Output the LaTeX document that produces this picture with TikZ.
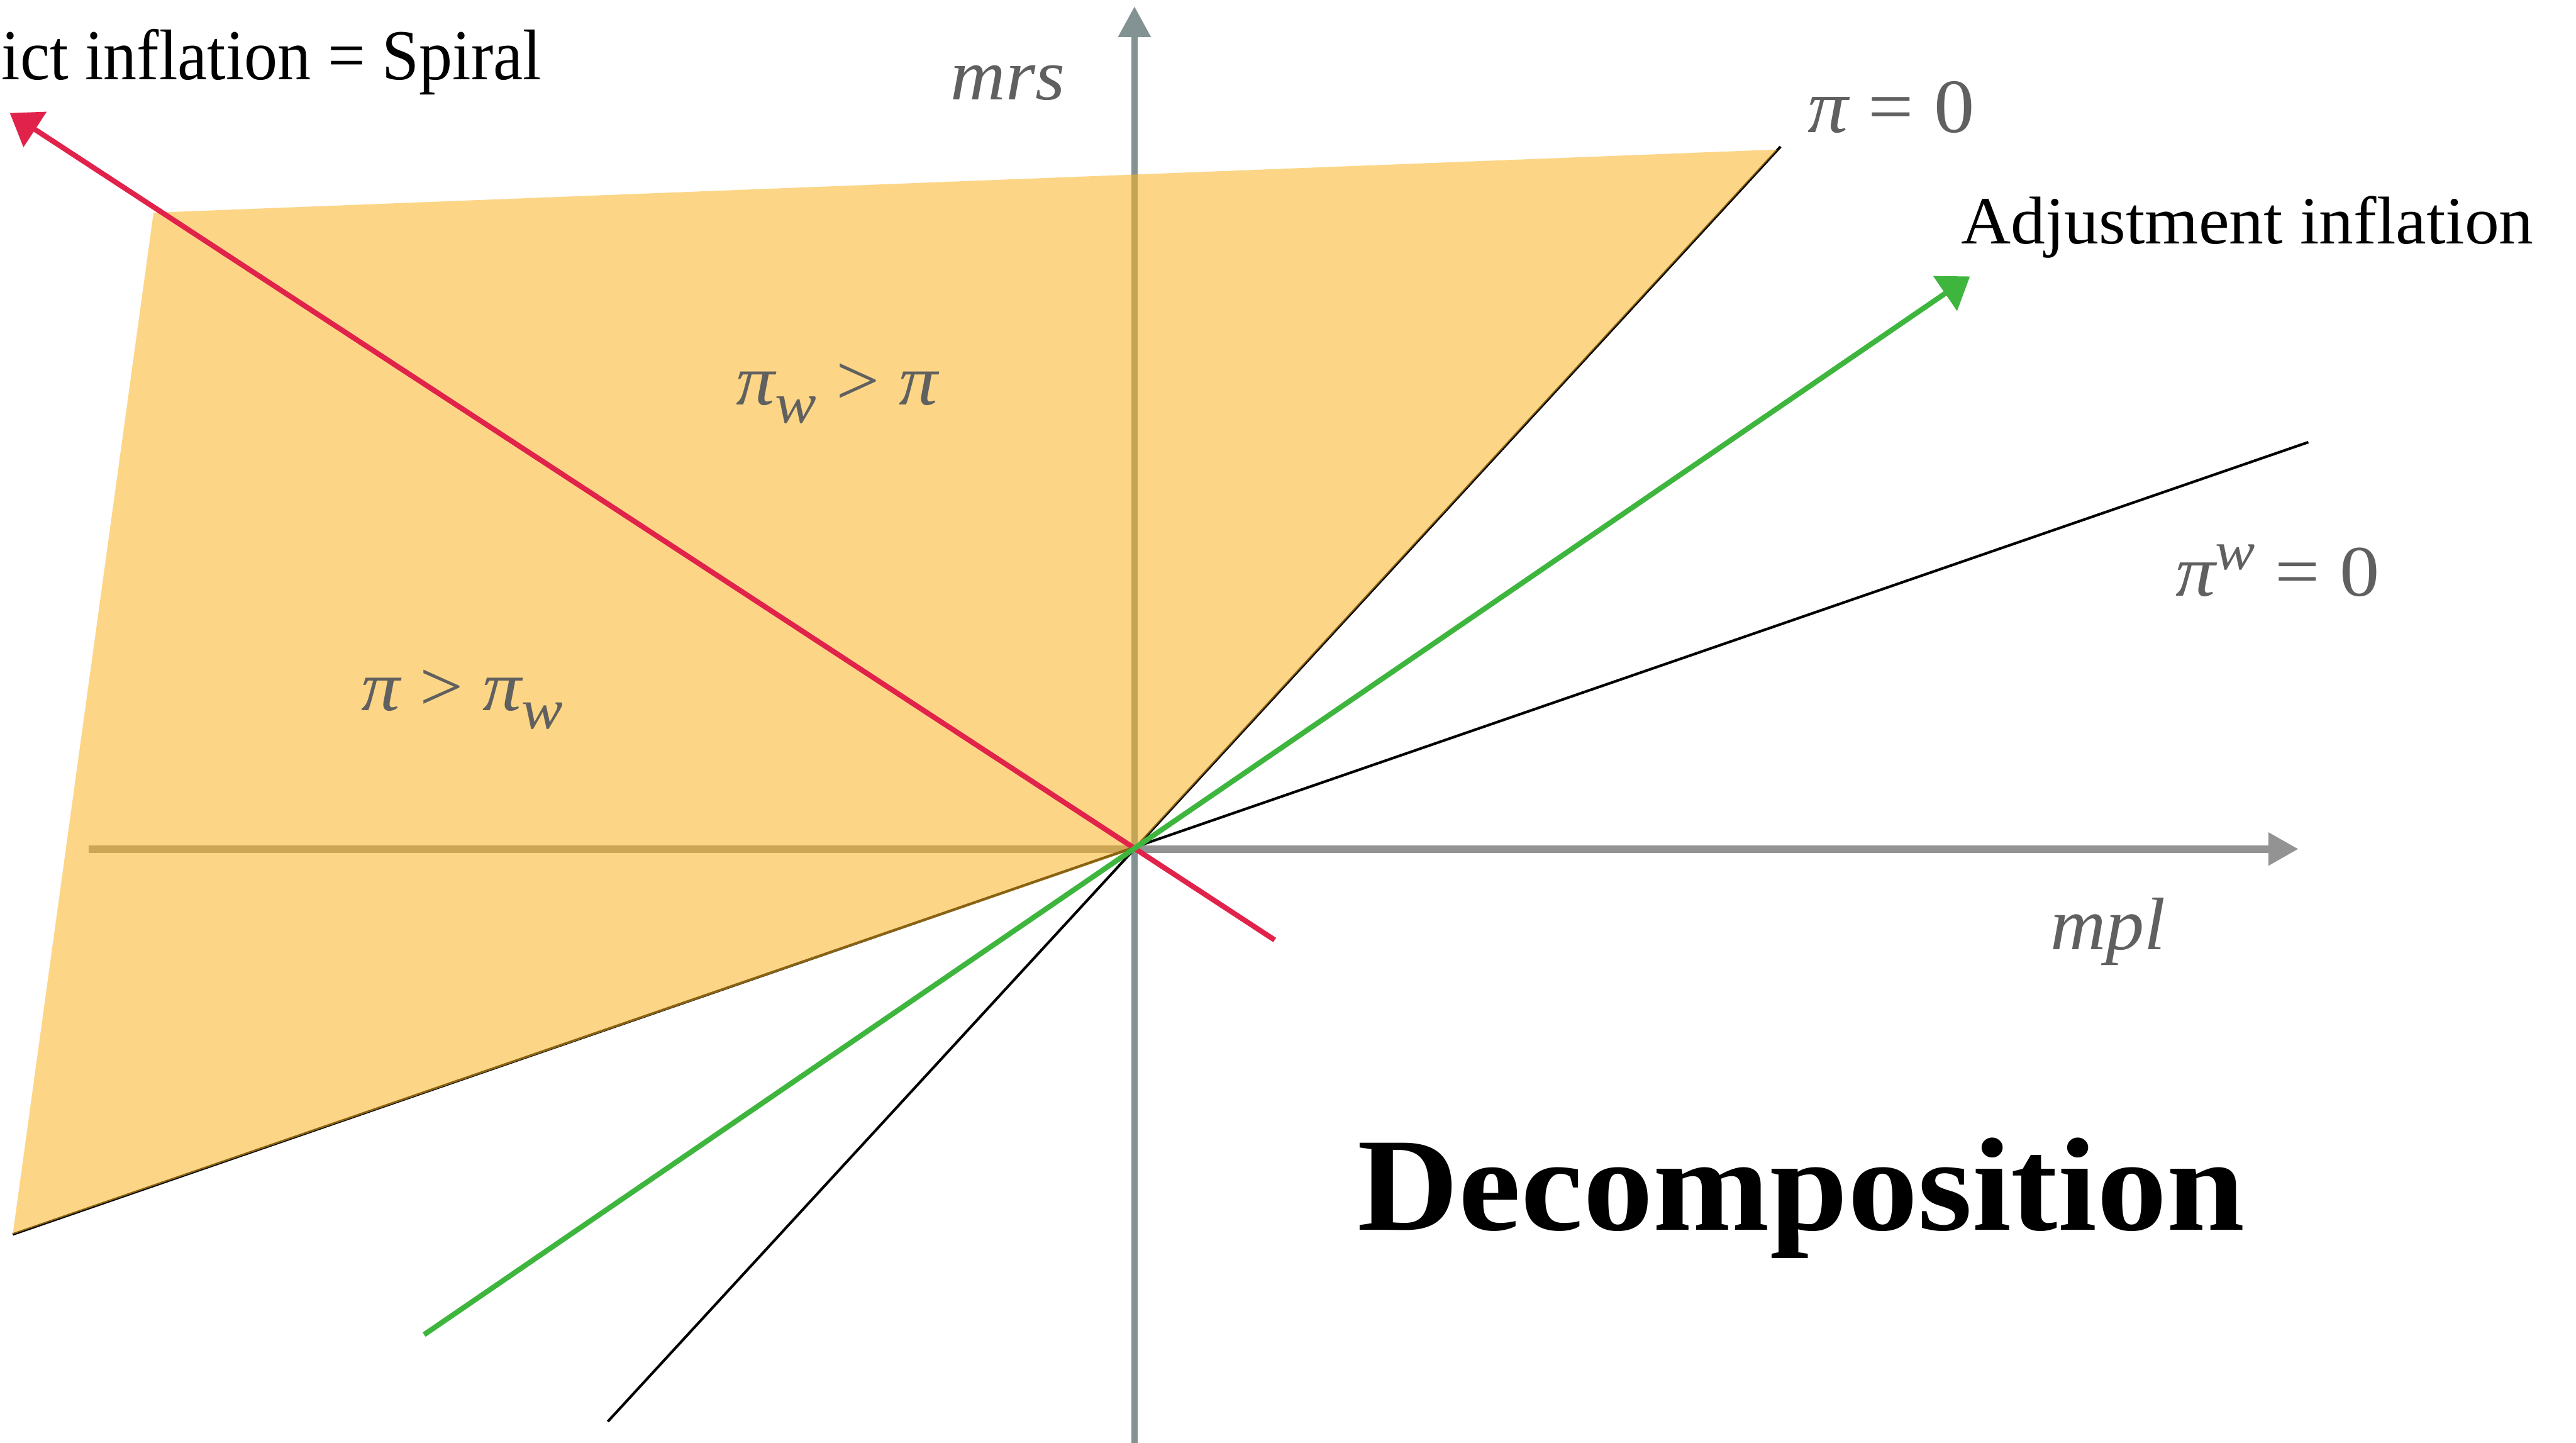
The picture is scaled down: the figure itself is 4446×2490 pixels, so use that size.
\documentclass[tikz,border=0pt]{standalone}
\usepackage{fontspec}
\setmainfont{Liberation Serif}
\usetikzlibrary{arrows.meta}
\definecolor{axisgrey}{RGB}{147,147,147}
\definecolor{axisteal}{RGB}{131,146,146}
\definecolor{fillorange}{RGB}{251,182,35}
\definecolor{spiralred}{RGB}{225,35,75}
\definecolor{adjgreen}{RGB}{62,182,62}
\definecolor{labelgrey}{RGB}{96,96,96}
\newcommand\subw{\raisebox{-0.26em}{\scalebox{0.8}{\itshape w}}}
\newcommand\supw{\raisebox{0.36em}{\scalebox{0.75}{\itshape w}}}
\newcommand\fitto[3]{\resizebox{#1cm}{#2cm}{#3}}
\begin{document}
\begin{tikzpicture}[x=0.01cm, y=-0.01cm,
  lbl/.style={anchor=base west, inner sep=0pt, outer sep=0pt},
  greylbl/.style={lbl, text=labelgrey},
  axisline/.style={line width=0.13cm, draw=axisgrey, -{Triangle[length=0.52cm,width=0.54cm]}},
  vaxisline/.style={line width=0.11cm, draw=axisteal, -{Triangle[length=0.53cm,width=0.54cm]}},
  zeroline/.style={line width=0.045cm, draw=black},
  pencilarrow/.style={line width=0.09cm, -{Triangle[length=0.52cm,width=0.71cm]}},
  region/.style={fill=fillorange, fill opacity=0.55}]
\useasboundingbox (0,0) rectangle (4446,2490);
\fill[white] (0,0) rectangle (4446,2490);

% coordinates
\coordinate (O) at (1958,1465);
\coordinate (xstart) at (153,1465);
\coordinate (xend) at (3967,1465);
\coordinate (ybot) at (1958,2490);
\coordinate (ytop) at (1958,11);
\coordinate (pA) at (3073,253);
\coordinate (pB) at (1049,2453);
\coordinate (wA) at (3984,763);
\coordinate (wB) at (22,2130);
\coordinate (fTL) at (265,367);
\coordinate (fTR) at (3068,258);
\coordinate (gS) at (732,2303);
\coordinate (gT) at (3400,477);
\coordinate (rS) at (2200,1622);
\coordinate (rT) at (17,195);

% axes
\draw[axisline] (xstart) -- (xend);
\draw[vaxisline] (ybot) -- (ytop);

% zero lines
\draw[zeroline] (pA) -- (pB);
\draw[zeroline] (wA) -- (wB);

% shaded region
\path[region] (fTL) -- (fTR) -- (O) -- (wB) -- cycle;

% arrows
\draw[pencilarrow, draw=spiralred, fill=spiralred] (rS) -- (rT);
\draw[pencilarrow, draw=adjgreen, fill=adjgreen] (gS) -- (gT);

% labels
\node[lbl] (spiral) at (3,137) {\fitto{9.31}{0.87}{ict inflation = Spiral}};
\node[greylbl] (mrs) at (1641,172) {\fitto{1.97}{0.59}{\itshape mrs}};
\node[greylbl] (pizero) at (3120,228) {\fitto{2.88}{0.88}{\itshape π\upshape{} = 0}};
\node[lbl] (adj) at (3385,421) {\fitto{9.87}{0.82}{Adjustment inflation}};
\node[greylbl] (piwzero) at (3755,1028) {\fitto{3.52}{0.88}{\itshape π\supw\upshape{} = 0}};
\node[greylbl] (regionA) at (1271,698) {\fitto{3.47}{0.71}{\itshape π\subw\upshape{} > \itshape π}};
\node[greylbl] (regionB) at (624,1226) {\fitto{3.47}{0.70}{\itshape π\upshape{} > \itshape π\subw}};
\node[greylbl] (mpl) at (3539,1638) {\fitto{1.99}{0.89}{\itshape mpl}};
\node[lbl] (title) at (2343,2123) {\fitto{15.30}{1.59}{\bfseries Decomposition}};
\end{tikzpicture}
\end{document}
